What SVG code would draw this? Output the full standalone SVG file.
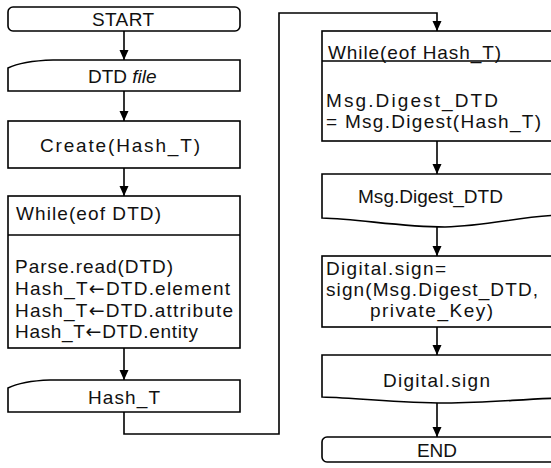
<svg xmlns="http://www.w3.org/2000/svg" width="551" height="468" viewBox="0 0 551 468">
<defs>
<marker id="arr" viewBox="0 0 10 10" refX="10" refY="5" markerWidth="10" markerHeight="10" markerUnits="userSpaceOnUse" orient="auto">
<path d="M0,0.5 L10,5 L0,9.5 Z" fill="#000"/>
</marker>
<style>
.box{fill:#fff;stroke:#000;stroke-width:1.6}
.ln{fill:none;stroke:#000;stroke-width:1.6}
.t{font-family:"Liberation Sans",Arial,sans-serif;font-size:19px;fill:#111}
.a{font-family:"DejaVu Sans",sans-serif}
</style>
</defs>
<rect width="551" height="468" fill="#fff"/>
<g id="connectors">
<line class="ln" x1="124" y1="31" x2="124" y2="60" marker-end="url(#arr)"/>
<line class="ln" x1="124" y1="91" x2="124" y2="121" marker-end="url(#arr)"/>
<line class="ln" x1="124" y1="168" x2="124" y2="196" marker-end="url(#arr)"/>
<line class="ln" x1="124" y1="348" x2="124" y2="380" marker-end="url(#arr)"/>
<polyline class="ln" points="124,412 124,434 279,434 279,13 437,13 437,31" marker-end="url(#arr)"/>
<line class="ln" x1="437" y1="141" x2="437" y2="174" marker-end="url(#arr)"/>
<line class="ln" x1="437" y1="227" x2="437" y2="256" marker-end="url(#arr)"/>
<line class="ln" x1="437" y1="327" x2="437" y2="355" marker-end="url(#arr)"/>
<line class="ln" x1="437" y1="402" x2="437" y2="437" marker-end="url(#arr)"/>
</g>
<g id="start">
<rect class="box" x="8" y="7" width="232" height="24" rx="5"/>
<text class="t" x="92" y="26" textLength="62" lengthAdjust="spacing">START</text>
</g>
<g id="dtd-file">
<path class="box" d="M8,68 Q22,61 53,60 L240,60 L240,91 L8,91 Z"/>
<text class="t" x="88" y="83">DTD <tspan font-style="italic">file</tspan></text>
</g>
<g id="create">
<rect class="box" x="8" y="121" width="232" height="47"/>
<text class="t" x="40" y="152" textLength="160" lengthAdjust="spacing">Create(Hash_T)</text>
</g>
<g id="while-dtd">
<rect class="box" x="8" y="196" width="232" height="152"/>
<line class="ln" x1="8" y1="235" x2="240" y2="235"/>
<text class="t" x="16" y="220" textLength="145" lengthAdjust="spacing">While(eof DTD)</text>
<text class="t" x="15" y="273" textLength="158" lengthAdjust="spacing">Parse.read(DTD)</text>
<text class="t" x="15" y="295" textLength="215" lengthAdjust="spacing">Hash_T<tspan class="a">←</tspan>DTD.element</text>
<text class="t" x="15" y="317" textLength="218" lengthAdjust="spacing">Hash_T<tspan class="a">←</tspan>DTD.attribute</text>
<text class="t" x="15" y="338" textLength="183" lengthAdjust="spacing">Hash_T<tspan class="a">←</tspan>DTD.entity</text>
</g>
<g id="hash-t">
<path class="box" d="M8,388 Q22,381 50,380 L240,380 L240,412 L8,412 Z"/>
<text class="t" x="88" y="404" textLength="72" lengthAdjust="spacing">Hash_T</text>
</g>
<g id="while-hash">
<rect class="box" x="322" y="31" width="240" height="110"/>
<line class="ln" x1="322" y1="61" x2="562" y2="61"/>
<text class="t" x="328" y="59" textLength="173" lengthAdjust="spacing">While(eof Hash_T)</text>
<text class="t" x="326" y="107" textLength="172" lengthAdjust="spacing">Msg.Digest_DTD</text>
<text class="t" x="326" y="128" textLength="215" lengthAdjust="spacing">= Msg.Digest(Hash_T)</text>
</g>
<g id="msg-digest">
<path class="box" d="M322,174 L562,174 L562,215 C520,216 490,226 445,227 C400,227 360,219 322,218 Z"/>
<text class="t" x="358" y="203" textLength="145" lengthAdjust="spacingAndGlyphs">Msg.Digest_DTD</text>
</g>
<g id="digital-sign-calc">
<rect class="box" x="322" y="256" width="240" height="71"/>
<text class="t" x="326" y="275" textLength="120" lengthAdjust="spacing">Digital.sign=</text>
<text class="t" x="326" y="296" textLength="212" lengthAdjust="spacing">sign(Msg.Digest_DTD,</text>
<text class="t" x="370" y="317" textLength="123" lengthAdjust="spacing">private_Key)</text>
</g>
<g id="digital-sign">
<path class="box" d="M322,355 L562,355 L562,398 C520,399 490,403 445,403 C400,403 360,398 322,397 Z"/>
<text class="t" x="383" y="387" textLength="107" lengthAdjust="spacing">Digital.sign</text>
</g>
<g id="end">
<rect class="box" x="322" y="437" width="240" height="25" rx="5"/>
<text class="t" x="417" y="457" textLength="40" lengthAdjust="spacing">END</text>
</g>
</svg>
